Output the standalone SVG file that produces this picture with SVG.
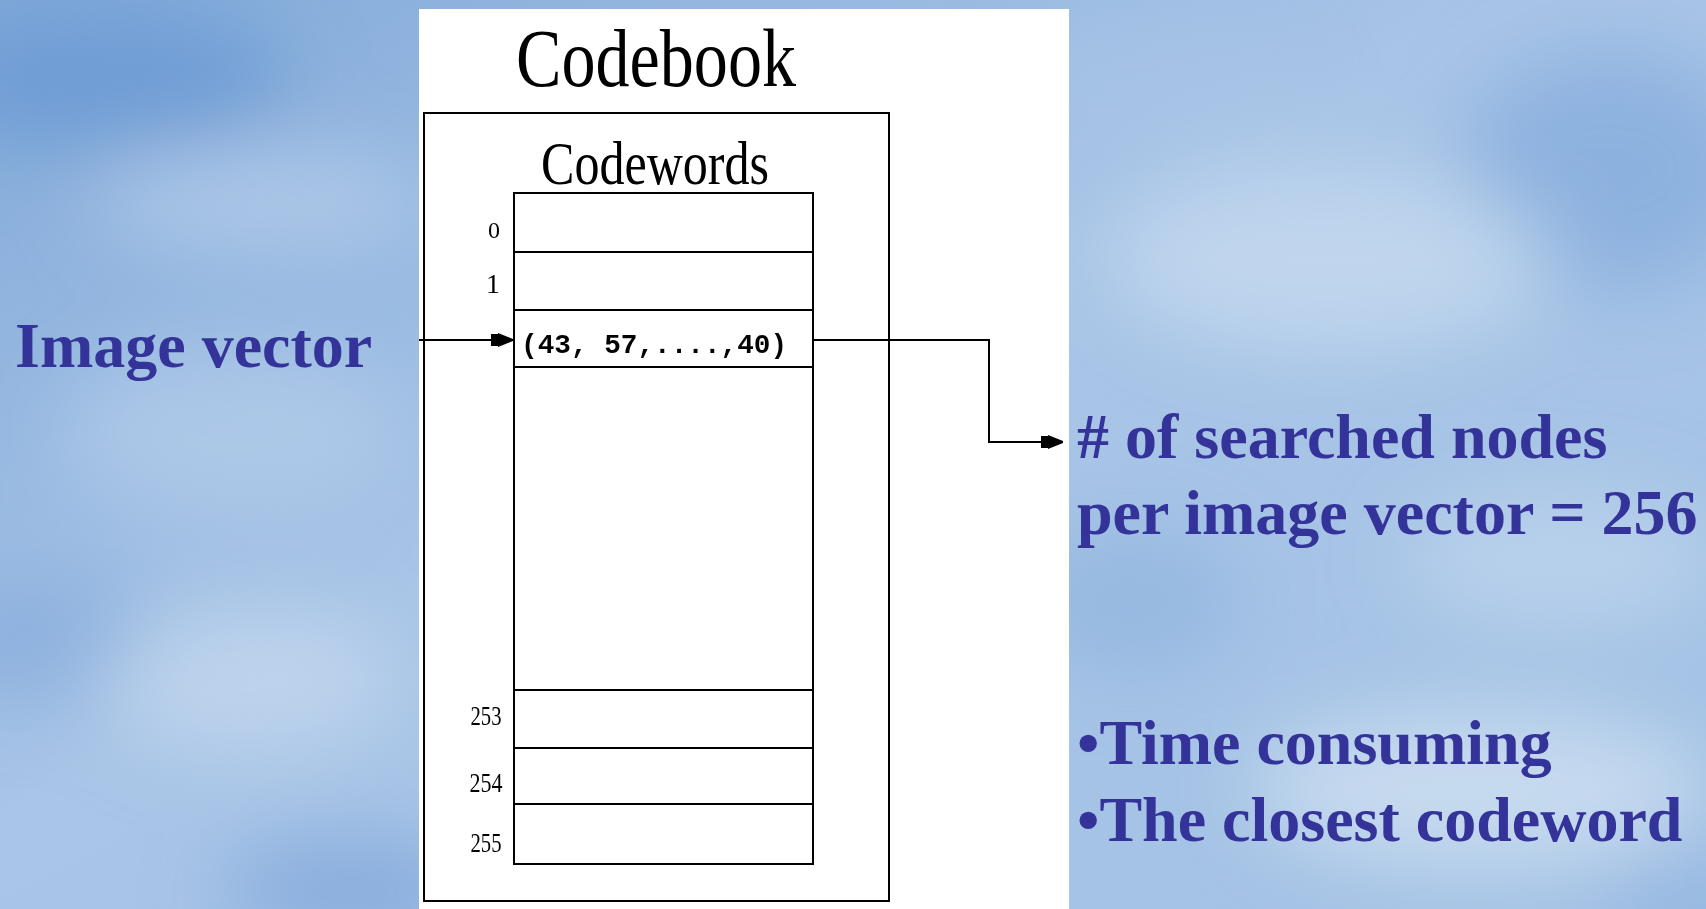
<svg xmlns="http://www.w3.org/2000/svg" width="1706" height="909" viewBox="0 0 1706 909">
  <defs>
    <linearGradient id="sky" x1="0" y1="0" x2="1" y2="1">
      <stop offset="0" stop-color="#82aad9"/>
      <stop offset="0.45" stop-color="#a9c5e7"/>
      <stop offset="1" stop-color="#a3c2e5"/>
    </linearGradient>
    <filter id="blur" x="-50%" y="-50%" width="200%" height="200%">
      <feGaussianBlur stdDeviation="40"/>
    </filter>
    <marker id="arrow" viewBox="0 0 22 16" refX="22" refY="8" markerWidth="22" markerHeight="16" markerUnits="userSpaceOnUse" orient="auto">
      <path d="M0,2 L7,2 L7,1 L22,7 L22,9 L7,15 L7,14 L0,14 Z" fill="#000"/>
    </marker>
    <style>
      .blue { font-family: "Liberation Serif", "Times New Roman", serif; font-weight: bold; font-size: 64px; fill: #333399; }
      .serif { font-family: "Liberation Serif", "Times New Roman", serif; fill: #000; }
      .mono { font-family: "Liberation Mono", "Courier New", monospace; font-weight: bold; fill: #000; }
      .box { fill: #fff; stroke: #000; stroke-width: 2; }
      .line { fill: none; stroke: #000; stroke-width: 2; }
    </style>
  </defs>

  <g id="background">
    <rect x="0" y="0" width="1706" height="909" fill="url(#sky)"/>
    <g filter="url(#blur)">
      <ellipse cx="110" cy="80" rx="180" ry="70" fill="#6595d1" opacity="0.7"/>
      <ellipse cx="260" cy="200" rx="170" ry="50" fill="#c3d7ee" opacity="0.55"/>
      <ellipse cx="230" cy="430" rx="170" ry="80" fill="#bad1ec" opacity="0.55"/>
      <ellipse cx="40" cy="640" rx="120" ry="60" fill="#7ba5d8" opacity="0.55"/>
      <ellipse cx="250" cy="680" rx="150" ry="70" fill="#c9dbf0" opacity="0.65"/>
      <ellipse cx="350" cy="890" rx="130" ry="50" fill="#6f9dd5" opacity="0.6"/>
      <ellipse cx="1610" cy="170" rx="150" ry="120" fill="#7ea8da" opacity="0.65"/>
      <ellipse cx="1330" cy="260" rx="220" ry="90" fill="#cddef1" opacity="0.65"/>
      <ellipse cx="1150" cy="90" rx="150" ry="60" fill="#a9c5e7" opacity="0.5"/>
      <ellipse cx="1130" cy="600" rx="110" ry="70" fill="#88aedb" opacity="0.55"/>
      <ellipse cx="1560" cy="560" rx="160" ry="70" fill="#c7daf0" opacity="0.55"/>
      <ellipse cx="1480" cy="790" rx="230" ry="80" fill="#d9e6f4" opacity="0.65"/>
      <ellipse cx="1690" cy="900" rx="90" ry="60" fill="#8db1de" opacity="0.55"/>
    </g>
  </g>

  <g id="codebook-panel">
    <rect x="419" y="9" width="650" height="900" fill="#fff"/>
    <text class="serif" x="656" y="86" font-size="82" text-anchor="middle" textLength="280" lengthAdjust="spacingAndGlyphs">Codebook</text>
  </g>

  <g id="codebook-box">
    <rect class="box" x="424" y="113" width="465" height="788"/>
    <text class="serif" x="655" y="184" font-size="62" text-anchor="middle" textLength="228" lengthAdjust="spacingAndGlyphs">Codewords</text>
  </g>

  <g id="codewords-column">
    <rect class="box" x="514" y="193" width="299" height="671"/>
    <line class="line" x1="514" y1="252" x2="813" y2="252"/>
    <line class="line" x1="514" y1="310" x2="813" y2="310"/>
    <line class="line" x1="514" y1="367" x2="813" y2="367"/>
    <line class="line" x1="514" y1="690" x2="813" y2="690"/>
    <line class="line" x1="514" y1="748" x2="813" y2="748"/>
    <line class="line" x1="514" y1="804" x2="813" y2="804"/>
    <text class="serif" x="494" y="238" font-size="24" text-anchor="middle">0</text>
    <text class="serif" x="493" y="293" font-size="28" text-anchor="middle">1</text>
    <text class="serif" x="486" y="725" font-size="27" text-anchor="middle" textLength="31" lengthAdjust="spacingAndGlyphs">253</text>
    <text class="serif" x="486" y="792" font-size="27" text-anchor="middle" textLength="33" lengthAdjust="spacingAndGlyphs">254</text>
    <text class="serif" x="486" y="852" font-size="27" text-anchor="middle" textLength="31" lengthAdjust="spacingAndGlyphs">255</text>
    <text class="mono" x="521" y="353" font-size="28" textLength="266" lengthAdjust="spacingAndGlyphs">(43, 57,....,40)</text>
  </g>

  <g id="label-image-vector">
    <text class="blue" x="15" y="367">Image vector</text>
  </g>

  <g id="label-searched">
    <text class="blue" x="1077" y="458">
      <tspan x="1077" y="458"># of searched nodes</tspan>
      <tspan x="1077" y="534">per image vector = 256</tspan>
    </text>
  </g>

  <g id="label-notes">
    <text class="blue" x="1077" y="764">
      <tspan x="1077" y="764">•Time consuming</tspan>
      <tspan x="1077" y="841">•The closest codeword</tspan>
    </text>
  </g>

  <g id="connectors">
    <line class="line" x1="419" y1="340" x2="513" y2="340" marker-end="url(#arrow)"/>
    <polyline class="line" points="813,340 989,340 989,442 1063,442" marker-end="url(#arrow)"/>
  </g>
</svg>
